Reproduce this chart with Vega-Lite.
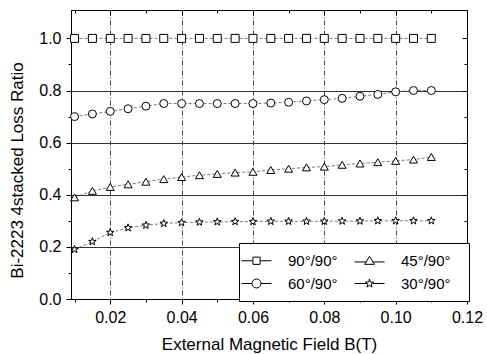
{
  "$schema": "https://vega.github.io/schema/vega-lite/v6.json",
  "width": 396,
  "height": 289,
  "autosize": "none",
  "padding": {"left": 71, "top": 10, "right": 20, "bottom": 55},
  "background": "white",
  "config": {
    "view": {"stroke": "black", "strokeWidth": 1},
    "font": "Liberation Sans"
  },
  "data": {
    "values": [
      {"B":0.010,"r":1.0,"s":"90°/90°"},{"B":0.015,"r":1.0,"s":"90°/90°"},{"B":0.020,"r":1.0,"s":"90°/90°"},{"B":0.025,"r":1.0,"s":"90°/90°"},{"B":0.030,"r":1.0,"s":"90°/90°"},{"B":0.035,"r":1.0,"s":"90°/90°"},{"B":0.040,"r":1.0,"s":"90°/90°"},{"B":0.045,"r":1.0,"s":"90°/90°"},{"B":0.050,"r":1.0,"s":"90°/90°"},{"B":0.055,"r":1.0,"s":"90°/90°"},{"B":0.060,"r":1.0,"s":"90°/90°"},{"B":0.065,"r":1.0,"s":"90°/90°"},{"B":0.070,"r":1.0,"s":"90°/90°"},{"B":0.075,"r":1.0,"s":"90°/90°"},{"B":0.080,"r":1.0,"s":"90°/90°"},{"B":0.085,"r":1.0,"s":"90°/90°"},{"B":0.090,"r":1.0,"s":"90°/90°"},{"B":0.095,"r":1.0,"s":"90°/90°"},{"B":0.100,"r":1.0,"s":"90°/90°"},{"B":0.105,"r":1.0,"s":"90°/90°"},{"B":0.110,"r":1.0,"s":"90°/90°"},
      {"B":0.010,"r":0.70,"s":"60°/90°"},{"B":0.015,"r":0.71,"s":"60°/90°"},{"B":0.020,"r":0.72,"s":"60°/90°"},{"B":0.025,"r":0.73,"s":"60°/90°"},{"B":0.030,"r":0.74,"s":"60°/90°"},{"B":0.035,"r":0.75,"s":"60°/90°"},{"B":0.040,"r":0.75,"s":"60°/90°"},{"B":0.045,"r":0.75,"s":"60°/90°"},{"B":0.050,"r":0.75,"s":"60°/90°"},{"B":0.055,"r":0.75,"s":"60°/90°"},{"B":0.060,"r":0.75,"s":"60°/90°"},{"B":0.065,"r":0.752,"s":"60°/90°"},{"B":0.070,"r":0.755,"s":"60°/90°"},{"B":0.075,"r":0.76,"s":"60°/90°"},{"B":0.080,"r":0.765,"s":"60°/90°"},{"B":0.085,"r":0.77,"s":"60°/90°"},{"B":0.090,"r":0.778,"s":"60°/90°"},{"B":0.095,"r":0.785,"s":"60°/90°"},{"B":0.100,"r":0.795,"s":"60°/90°"},{"B":0.105,"r":0.80,"s":"60°/90°"},{"B":0.110,"r":0.80,"s":"60°/90°"},
      {"B":0.010,"r":0.39,"s":"45°/90°"},{"B":0.015,"r":0.415,"s":"45°/90°"},{"B":0.020,"r":0.43,"s":"45°/90°"},{"B":0.025,"r":0.44,"s":"45°/90°"},{"B":0.030,"r":0.45,"s":"45°/90°"},{"B":0.035,"r":0.46,"s":"45°/90°"},{"B":0.040,"r":0.468,"s":"45°/90°"},{"B":0.045,"r":0.475,"s":"45°/90°"},{"B":0.050,"r":0.48,"s":"45°/90°"},{"B":0.055,"r":0.485,"s":"45°/90°"},{"B":0.060,"r":0.488,"s":"45°/90°"},{"B":0.065,"r":0.495,"s":"45°/90°"},{"B":0.070,"r":0.50,"s":"45°/90°"},{"B":0.075,"r":0.505,"s":"45°/90°"},{"B":0.080,"r":0.508,"s":"45°/90°"},{"B":0.085,"r":0.515,"s":"45°/90°"},{"B":0.090,"r":0.52,"s":"45°/90°"},{"B":0.095,"r":0.525,"s":"45°/90°"},{"B":0.100,"r":0.53,"s":"45°/90°"},{"B":0.105,"r":0.535,"s":"45°/90°"},{"B":0.110,"r":0.545,"s":"45°/90°"},
      {"B":0.010,"r":0.19,"s":"30°/90°"},{"B":0.015,"r":0.22,"s":"30°/90°"},{"B":0.020,"r":0.255,"s":"30°/90°"},{"B":0.025,"r":0.273,"s":"30°/90°"},{"B":0.030,"r":0.283,"s":"30°/90°"},{"B":0.035,"r":0.29,"s":"30°/90°"},{"B":0.040,"r":0.293,"s":"30°/90°"},{"B":0.045,"r":0.295,"s":"30°/90°"},{"B":0.050,"r":0.296,"s":"30°/90°"},{"B":0.055,"r":0.297,"s":"30°/90°"},{"B":0.060,"r":0.297,"s":"30°/90°"},{"B":0.065,"r":0.298,"s":"30°/90°"},{"B":0.070,"r":0.298,"s":"30°/90°"},{"B":0.075,"r":0.298,"s":"30°/90°"},{"B":0.080,"r":0.298,"s":"30°/90°"},{"B":0.085,"r":0.299,"s":"30°/90°"},{"B":0.090,"r":0.299,"s":"30°/90°"},{"B":0.095,"r":0.30,"s":"30°/90°"},{"B":0.100,"r":0.30,"s":"30°/90°"},{"B":0.105,"r":0.30,"s":"30°/90°"},{"B":0.110,"r":0.30,"s":"30°/90°"}
    ]
  },
  "layer": [
    {
      "mark": {"type": "line", "stroke": "#555", "strokeWidth": 0.8, "strokeDash": [3, 2]},
      "encoding": {
        "x": {
          "field": "B", "type": "quantitative",
          "scale": {"domain": [0.009, 0.12], "nice": false, "zero": false},
          "axis": {
            "orient": "bottom",
            "values": [0.01,0.02,0.03,0.04,0.05,0.06,0.07,0.08,0.09,0.10,0.11,0.12],
            "labelExpr": "round(datum.value*100)%2==0 ? format(datum.value,'.2f') : ''",
            "labelOverlap": false, "labelFlush": false,
            "labelFontSize": 16, "labelFont": "Liberation Sans", "labelColor": "black", "labelPadding": 5,
            "tickSize": {"condition": {"test": "round(datum.value*100)%2==0", "value": 5}, "value": 3},
            "tickColor": "black", "domainColor": "black",
            "grid": true, "gridColor": "#333", "gridWidth": 0.9, "gridDash": [5, 2, 1, 2],
            "gridOpacity": {"condition": {"test": "round(datum.value*100)%2==0 && datum.value<0.115", "value": 1}, "value": 0},
            "title": "External Magnetic Field B(T)",
            "titleFontSize": 17, "titleFont": "Liberation Sans", "titleFontWeight": "normal", "titleColor": "black", "titlePadding": 11
          }
        },
        "y": {
          "field": "r", "type": "quantitative",
          "scale": {"domain": [0, 1.109], "nice": false},
          "axis": {
            "orient": "left",
            "values": [0,0.1,0.2,0.3,0.4,0.5,0.6,0.7,0.8,0.9,1.0],
            "labelExpr": "round(datum.value*10)%2==0 ? format(datum.value,'.1f') : ''",
            "labelOverlap": false, "labelFlush": false,
            "labelFontSize": 16, "labelFont": "Liberation Sans", "labelColor": "black", "labelPadding": 5,
            "tickSize": {"condition": {"test": "round(datum.value*10)%2==0", "value": 5}, "value": 3},
            "tickColor": "black", "domainColor": "black",
            "grid": true, "gridColor": "#333", "gridWidth": 1,
            "gridOpacity": {"condition": {"test": "round(datum.value*10)%2==0 && datum.value>0.05 && datum.value<0.95", "value": 1}, "value": 0},
            "title": "Bi-2223 4stacked Loss Ratio",
            "titleFontSize": 17, "titleFont": "Liberation Sans", "titleFontWeight": "normal", "titleColor": "black",
            "titleX": -45, "titleY": 160
          }
        },
        "detail": {"field": "s"}
      }
    },
    {
      "mark": {"type": "point", "filled": true, "fill": "white", "stroke": "black", "strokeWidth": 1, "opacity": 1, "size": 64},
      "encoding": {
        "x": {
          "field": "B", "type": "quantitative",
          "axis": {
            "orient": "top", "labels": false, "domain": false, "grid": false, "title": null,
            "values": [0.01,0.02,0.03,0.04,0.05,0.06,0.07,0.08,0.09,0.10,0.11,0.12],
            "tickColor": "black",
            "tickSize": {"condition": {"test": "round(datum.value*100)%2==0", "value": -5}, "value": -3}
          }
        },
        "y": {
          "field": "r", "type": "quantitative",
          "axis": {
            "orient": "right", "labels": false, "domain": false, "grid": false, "title": null,
            "values": [0.1,0.2,0.3,0.4,0.5,0.6,0.7,0.8,0.9,1.0],
            "tickColor": "black",
            "tickSize": {"condition": {"test": "round(datum.value*10)%2==0", "value": -5}, "value": -3}
          }
        },
        "shape": {
          "field": "s", "type": "nominal",
          "scale": {
            "domain": ["90°/90°", "60°/90°", "45°/90°", "30°/90°"],
            "range": ["square", "circle", "triangle-up", "M0,-1L0.235,-0.324L0.951,-0.309L0.38,0.124L0.588,0.809L0,0.4L-0.588,0.809L-0.38,0.124L-0.951,-0.309L-0.235,-0.324Z"]
          },
          "legend": null
        }
      }
    },
    {
      "mark": {"type": "point", "filled": false, "color": "black", "strokeWidth": 1, "opacity": 0, "size": 64},
      "encoding": {
        "x": {"field": "B", "type": "quantitative", "axis": null},
        "y": {"field": "r", "type": "quantitative", "axis": null},
        "shape": {
          "field": "s", "type": "nominal",
          "scale": {
            "domain": ["90°/90°", "60°/90°", "45°/90°", "30°/90°"],
            "range": [
              "M-2.7,0M11,0M-1.875,0H-0.45M0.45,0H1.875M-0.45,-0.45H0.45V0.45H-0.45Z",
              "M-2.7,0M11,0M-1.875,0H-0.56M0.56,0H1.875M-0.56,0A0.56,0.56,0,1,1,0.56,0A0.56,0.56,0,1,1,-0.56,0Z",
              "M-2.7,0M11,0M-1.875,0.15H-0.43M0.43,0.15H1.875M0,-0.55L0.6,0.45H-0.6Z",
              "M-2.7,0M11,0M-1.875,0H-0.35M0.35,0H1.875M0,-0.55L0.129,-0.178L0.523,-0.17L0.209,0.068L0.323,0.445L0,0.22L-0.323,0.445L-0.209,0.068L-0.523,-0.17L-0.129,-0.178Z"
            ]
          },
          "legend": {
            "title": null,
            "values": ["90°/90°", "60°/90°", "45°/90°", "30°/90°"],
            "orient": "bottom-right",
            "offset": -2,
            "columns": 2,
            "symbolSize": 256,
            "symbolOpacity": 1,
            "symbolStrokeWidth": 1,
            "symbolStrokeColor": "black",
            "labelFontSize": 15,
            "labelFont": "Liberation Sans",
            "labelColor": "black",
            "labelOffset": 23,
            "padding": 9,
            "rowPadding": 6,
            "columnPadding": -2,
            "strokeColor": "black",
            "fillColor": "white"
          }
        }
      }
    }
  ],
  "resolve": {"axis": {"x": "independent", "y": "independent"}, "scale": {"shape": "independent"}}
}
